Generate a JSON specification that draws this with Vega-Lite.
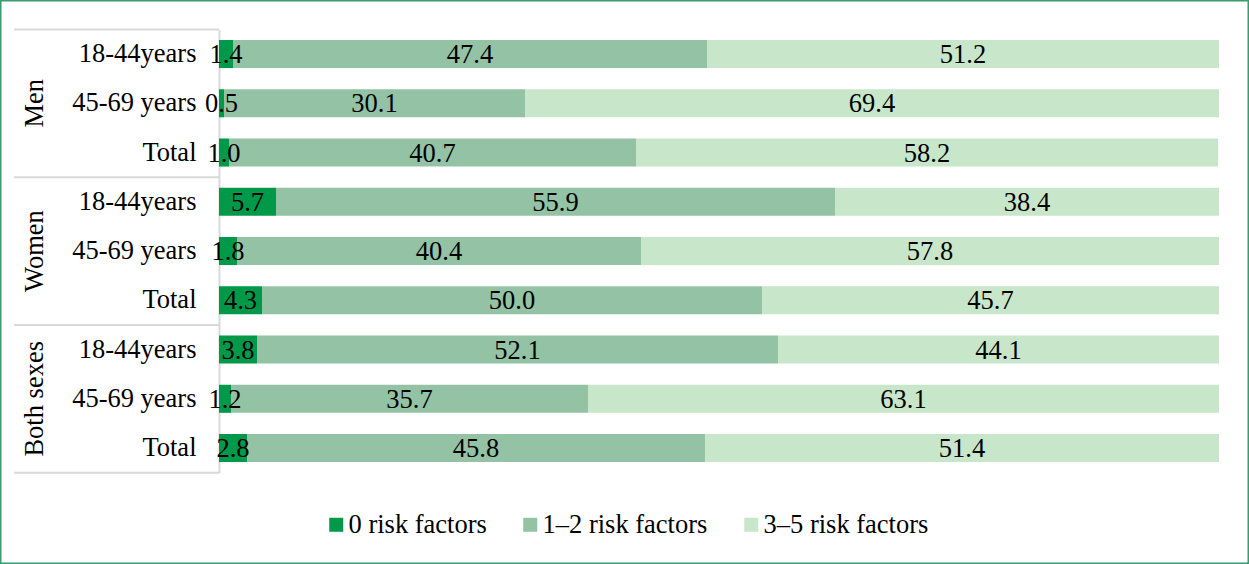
{
  "$schema": "https://vega.github.io/schema/vega-lite/v6.json",
  "autosize": {"type": "none"},
  "width": 1000,
  "height": 443.25,
  "padding": {"left": 219, "top": 29.4, "right": 30, "bottom": 91.35},
  "background": "white",
  "config": {
    "view": {"stroke": null},
    "font": "Liberation Serif",
    "text": {"font": "Liberation Serif"}
  },
  "datasets": {
    "bars": [
      {"key": "Men|18-44years", "cat": "0 risk factors", "start": 0, "end": 1.4, "value": 1.4},
      {"key": "Men|18-44years", "cat": "1–2 risk factors", "start": 1.4, "end": 48.8, "value": 47.4},
      {"key": "Men|18-44years", "cat": "3–5 risk factors", "start": 48.8, "end": 100, "value": 51.2},
      {"key": "Men|45-69 years", "cat": "0 risk factors", "start": 0, "end": 0.5, "value": 0.5},
      {"key": "Men|45-69 years", "cat": "1–2 risk factors", "start": 0.5, "end": 30.6, "value": 30.1},
      {"key": "Men|45-69 years", "cat": "3–5 risk factors", "start": 30.6, "end": 100, "value": 69.4},
      {"key": "Men|Total", "cat": "0 risk factors", "start": 0, "end": 1.0, "value": 1.0},
      {"key": "Men|Total", "cat": "1–2 risk factors", "start": 1.0, "end": 41.7, "value": 40.7},
      {"key": "Men|Total", "cat": "3–5 risk factors", "start": 41.7, "end": 99.9, "value": 58.2},
      {"key": "Women|18-44years", "cat": "0 risk factors", "start": 0, "end": 5.7, "value": 5.7},
      {"key": "Women|18-44years", "cat": "1–2 risk factors", "start": 5.7, "end": 61.6, "value": 55.9},
      {"key": "Women|18-44years", "cat": "3–5 risk factors", "start": 61.6, "end": 100, "value": 38.4},
      {"key": "Women|45-69 years", "cat": "0 risk factors", "start": 0, "end": 1.8, "value": 1.8},
      {"key": "Women|45-69 years", "cat": "1–2 risk factors", "start": 1.8, "end": 42.2, "value": 40.4},
      {"key": "Women|45-69 years", "cat": "3–5 risk factors", "start": 42.2, "end": 100, "value": 57.8},
      {"key": "Women|Total", "cat": "0 risk factors", "start": 0, "end": 4.3, "value": 4.3},
      {"key": "Women|Total", "cat": "1–2 risk factors", "start": 4.3, "end": 54.3, "value": 50.0},
      {"key": "Women|Total", "cat": "3–5 risk factors", "start": 54.3, "end": 100, "value": 45.7},
      {"key": "Both sexes|18-44years", "cat": "0 risk factors", "start": 0, "end": 3.8, "value": 3.8},
      {"key": "Both sexes|18-44years", "cat": "1–2 risk factors", "start": 3.8, "end": 55.9, "value": 52.1},
      {"key": "Both sexes|18-44years", "cat": "3–5 risk factors", "start": 55.9, "end": 100, "value": 44.1},
      {"key": "Both sexes|45-69 years", "cat": "0 risk factors", "start": 0, "end": 1.2, "value": 1.2},
      {"key": "Both sexes|45-69 years", "cat": "1–2 risk factors", "start": 1.2, "end": 36.9, "value": 35.7},
      {"key": "Both sexes|45-69 years", "cat": "3–5 risk factors", "start": 36.9, "end": 100, "value": 63.1},
      {"key": "Both sexes|Total", "cat": "0 risk factors", "start": 0, "end": 2.8, "value": 2.8},
      {"key": "Both sexes|Total", "cat": "1–2 risk factors", "start": 2.8, "end": 48.6, "value": 45.8},
      {"key": "Both sexes|Total", "cat": "3–5 risk factors", "start": 48.6, "end": 100, "value": 51.4}
    ],
    "groups": [
      {"key": "Men|45-69 years", "group": "Men", "x": -18.4},
      {"key": "Women|45-69 years", "group": "Women", "x": -18.4},
      {"key": "Both sexes|45-69 years", "group": "Both sexes", "x": -18.4}
    ],
    "seps": [
      {"key": "Men|18-44years", "x": -20.5, "x2": 0},
      {"key": "Women|18-44years", "x": -20.5, "x2": 0},
      {"key": "Both sexes|18-44years", "x": -20.5, "x2": 0}
    ],
    "sepsEnd": [
      {"key": "Both sexes|Total", "x": -20.5, "x2": 0}
    ],
    "frame": [
      {"x": -21.85, "x2": 102.95, "y": -0.205, "y2": 1.0652}
    ]
  },
  "layer": [
    {
      "data": {"name": "frame"},
      "mark": {"type": "rect", "fill": null, "stroke": "#3a9a70", "strokeWidth": 2},
      "encoding": {
        "x": {"field": "x", "type": "quantitative", "scale": {"domain": [0, 100], "nice": false, "zero": false}, "axis": null},
        "x2": {"field": "x2"},
        "y": {"field": "y", "type": "quantitative", "scale": {"domain": [0, 1], "nice": false, "zero": false}, "axis": null},
        "y2": {"field": "y2"}
      }
    },
    {
      "layer": [
        {
          "data": {"name": "bars"},
          "mark": {"type": "bar", "height": {"band": 0.57}},
          "encoding": {
            "y": {
              "field": "key", "type": "nominal",
              "scale": {
                "domain": ["Men|18-44years", "Men|45-69 years", "Men|Total", "Women|18-44years", "Women|45-69 years", "Women|Total", "Both sexes|18-44years", "Both sexes|45-69 years", "Both sexes|Total"],
                "paddingInner": 0, "paddingOuter": 0
              },
              "axis": {
                "title": null,
                "ticks": false,
                "labelExpr": "split(datum.label, '|')[1]",
                "labelFont": "Liberation Serif",
                "labelFontSize": 26.5,
                "labelColor": "#000000",
                "labelPadding": 23,
                "domainColor": "#d9d9d9",
                "domainWidth": 2,
                "grid": false
              }
            },
            "x": {"field": "start", "type": "quantitative", "scale": {"domain": [0, 100], "nice": false, "zero": false}, "axis": null},
            "x2": {"field": "end"},
            "color": {
              "field": "cat", "type": "nominal",
              "scale": {"domain": ["0 risk factors", "1–2 risk factors", "3–5 risk factors"], "range": ["#00994a", "#93c2a5", "#c8e6c9"]},
              "legend": {
                "title": null,
                "orient": "none",
                "direction": "horizontal",
                "legendX": 104,
                "legendY": 482,
                "symbolType": "square",
                "symbolSize": 196,
                "symbolStrokeWidth": 0,
                "labelFont": "Liberation Serif",
                "labelFontSize": 26.5,
                "labelColor": "#000000",
                "labelOffset": -1,
                "columnPadding": 30,
                "labelLimit": 400
              }
            }
          }
        },
        {
          "data": {"name": "bars"},
          "mark": {"type": "text", "font": "Liberation Serif", "fontSize": 26.5, "color": "#000000", "baseline": "middle", "align": "center", "dy": 1},
          "encoding": {
            "y": {"field": "key", "type": "nominal"},
            "x": {"field": "mid", "type": "quantitative"},
            "text": {"field": "value", "type": "quantitative", "format": ".1f"}
          },
          "transform": [{"calculate": "(datum.start + datum.end) / 2", "as": "mid"}]
        },
        {
          "data": {"name": "groups"},
          "mark": {"type": "text", "font": "Liberation Serif", "fontSize": 26.5, "color": "#000000", "angle": 270, "baseline": "middle", "align": "center"},
          "encoding": {
            "y": {"field": "key", "type": "nominal"},
            "x": {"field": "x", "type": "quantitative"},
            "text": {"field": "group"}
          }
        },
        {
          "data": {"name": "seps"},
          "mark": {"type": "rule", "color": "#d9d9d9", "strokeWidth": 2},
          "encoding": {
            "y": {"field": "key", "type": "nominal", "bandPosition": 0},
            "x": {"field": "x", "type": "quantitative"},
            "x2": {"field": "x2"}
          }
        },
        {
          "data": {"name": "sepsEnd"},
          "mark": {"type": "rule", "color": "#d9d9d9", "strokeWidth": 2},
          "encoding": {
            "y": {"field": "key", "type": "nominal", "bandPosition": 1},
            "x": {"field": "x", "type": "quantitative"},
            "x2": {"field": "x2"}
          }
        }
      ]
    }
  ],
  "resolve": {"scale": {"y": "independent"}}
}
